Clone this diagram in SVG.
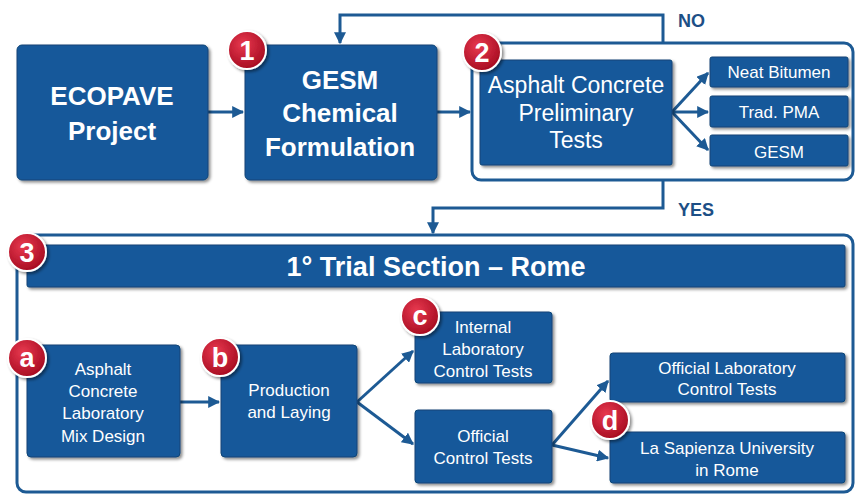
<svg xmlns="http://www.w3.org/2000/svg" width="855" height="494" viewBox="0 0 855 494">
<defs>
<filter id="sh" x="-10%" y="-10%" width="125%" height="130%">
<feDropShadow dx="2" dy="2" stdDeviation="1.5" flood-color="#000" flood-opacity="0.45"/>
</filter>
<radialGradient id="rg" cx="40%" cy="35%" r="65%">
<stop offset="0" stop-color="#e8394f"/>
<stop offset="1" stop-color="#a80d22"/>
</radialGradient>
<marker id="ar" viewBox="0 0 10 10" refX="9" refY="5" markerWidth="4" markerHeight="4" orient="auto-start-reverse">
<path d="M0,0 L10,5 L0,10 z" fill="#1d5a94"/>
</marker>
<style>
.box{fill:#17589a;stroke:#0f4476;stroke-width:1;filter:url(#sh)}
.cont{fill:#fff;stroke:#1d5a94;stroke-width:3}
.t{fill:#fff;font-family:"Liberation Sans",Arial,sans-serif;text-anchor:middle}
.s{font-size:17px}
.b{font-weight:bold}
.lbl{fill:#1d4f86;font-family:"Liberation Sans",Arial,sans-serif;font-weight:bold;font-size:18px}
.ln{fill:none;stroke:#1d5a94;stroke-width:3;marker-end:url(#ar)}
.bd circle{fill:url(#rg);stroke:#fff;stroke-width:2;filter:url(#sh)}
.bd text{fill:#fff;font-family:"Liberation Sans",Arial,sans-serif;font-weight:bold;font-size:27px;text-anchor:middle}
</style>
</defs>
<rect width="855" height="494" fill="#fff"/>

<g id="container2"><rect class="cont" x="472" y="43" width="381" height="137" rx="9"/></g>
<g id="container3"><rect class="cont" x="17" y="235" width="836" height="257" rx="9"/></g>

<g id="connectors">
<path class="ln" d="M208,112 H243"/>
<path class="ln" d="M437,112 H470"/>
<path class="ln" d="M663,43 V15 H340 V43"/>
<path class="ln" d="M663,180 V208 H433 V233"/>
<path class="ln" d="M672,112 L708,73"/>
<path class="ln" d="M672,112 H708"/>
<path class="ln" d="M672,112 L708,150"/>
<path class="ln" d="M180,402 H219"/>
<path class="ln" d="M357,402 L413,351"/>
<path class="ln" d="M357,402 L413,444"/>
<path class="ln" d="M552,445 L608,381"/>
<path class="ln" d="M552,445 L608,458"/>
<text class="lbl" x="678" y="27">NO</text>
<text class="lbl" x="678" y="216">YES</text>
</g>

<g id="ecopave"><rect class="box" x="17" y="45" width="191" height="135" rx="5"/>
<text class="t b" font-size="26" x="112" y="105">ECOPAVE</text>
<text class="t b" font-size="26" x="112" y="140">Project</text></g>

<g id="gesm"><rect class="box" x="245" y="45" width="192" height="135" rx="5"/>
<text class="t b" font-size="26" x="340" y="89">GESM</text>
<text class="t b" font-size="26" x="340" y="122">Chemical</text>
<text class="t b" font-size="26" x="340" y="156">Formulation</text></g>

<g id="prelim"><rect class="box" x="480" y="60" width="192" height="105" rx="2"/>
<text class="t" font-size="23" x="576" y="93">Asphalt Concrete</text>
<text class="t" font-size="23" x="576" y="121">Preliminary</text>
<text class="t" font-size="23" x="576" y="148">Tests</text></g>

<g id="neat"><rect class="box" x="710" y="57" width="138" height="30" rx="2"/>
<text class="t s" x="779" y="78">Neat Bitumen</text></g>
<g id="pma"><rect class="box" x="710" y="96" width="138" height="31" rx="2"/>
<text class="t s" x="779" y="118">Trad. PMA</text></g>
<g id="gesm2"><rect class="box" x="710" y="135" width="138" height="31" rx="2"/>
<text class="t s" x="779" y="158">GESM</text></g>

<g id="title"><rect class="box" x="27" y="245" width="818" height="42" rx="2"/>
<text class="t b" font-size="27" x="436" y="276">1° Trial Section – Rome</text></g>

<g id="mix"><rect class="box" x="27" y="345" width="153" height="112" rx="4"/>
<text class="t s" x="103" y="375">Asphalt</text>
<text class="t s" x="103" y="397">Concrete</text>
<text class="t s" x="103" y="419">Laboratory</text>
<text class="t s" x="103" y="442">Mix Design</text></g>

<g id="production"><rect class="box" x="221" y="345" width="136" height="112" rx="4"/>
<text class="t s" x="289" y="396">Production</text>
<text class="t s" x="289" y="418">and Laying</text></g>

<g id="internal"><rect class="box" x="415" y="312" width="137" height="71" rx="3"/>
<text class="t s" x="483" y="333">Internal</text>
<text class="t s" x="483" y="355">Laboratory</text>
<text class="t s" x="483" y="377">Control Tests</text></g>

<g id="official"><rect class="box" x="415" y="410" width="137" height="73" rx="3"/>
<text class="t s" x="483" y="442">Official</text>
<text class="t s" x="483" y="464">Control Tests</text></g>

<g id="offlab"><rect class="box" x="610" y="353" width="235" height="49" rx="3"/>
<text class="t s" x="727" y="374">Official Laboratory</text>
<text class="t s" x="727" y="395">Control Tests</text></g>

<g id="sapienza"><rect class="box" x="610" y="432" width="235" height="51" rx="3"/>
<text class="t s" x="727" y="454">La Sapienza University</text>
<text class="t s" x="727" y="476">in Rome</text></g>

<g id="badges" class="bd">
<g id="b1"><circle cx="247" cy="50" r="19"/><text x="247" y="60">1</text></g>
<g id="b2"><circle cx="482" cy="52" r="19"/><text x="482" y="62">2</text></g>
<g id="b3"><circle cx="27" cy="252" r="19"/><text x="27" y="262">3</text></g>
<g id="ba"><circle cx="27" cy="358" r="19"/><text x="27" y="367">a</text></g>
<g id="bb"><circle cx="220" cy="357" r="19"/><text x="220" y="367">b</text></g>
<g id="bc"><circle cx="420" cy="316" r="19"/><text x="420" y="325">c</text></g>
<g id="bdd"><circle cx="610" cy="420" r="19"/><text x="610" y="430">d</text></g>
</g>
</svg>
